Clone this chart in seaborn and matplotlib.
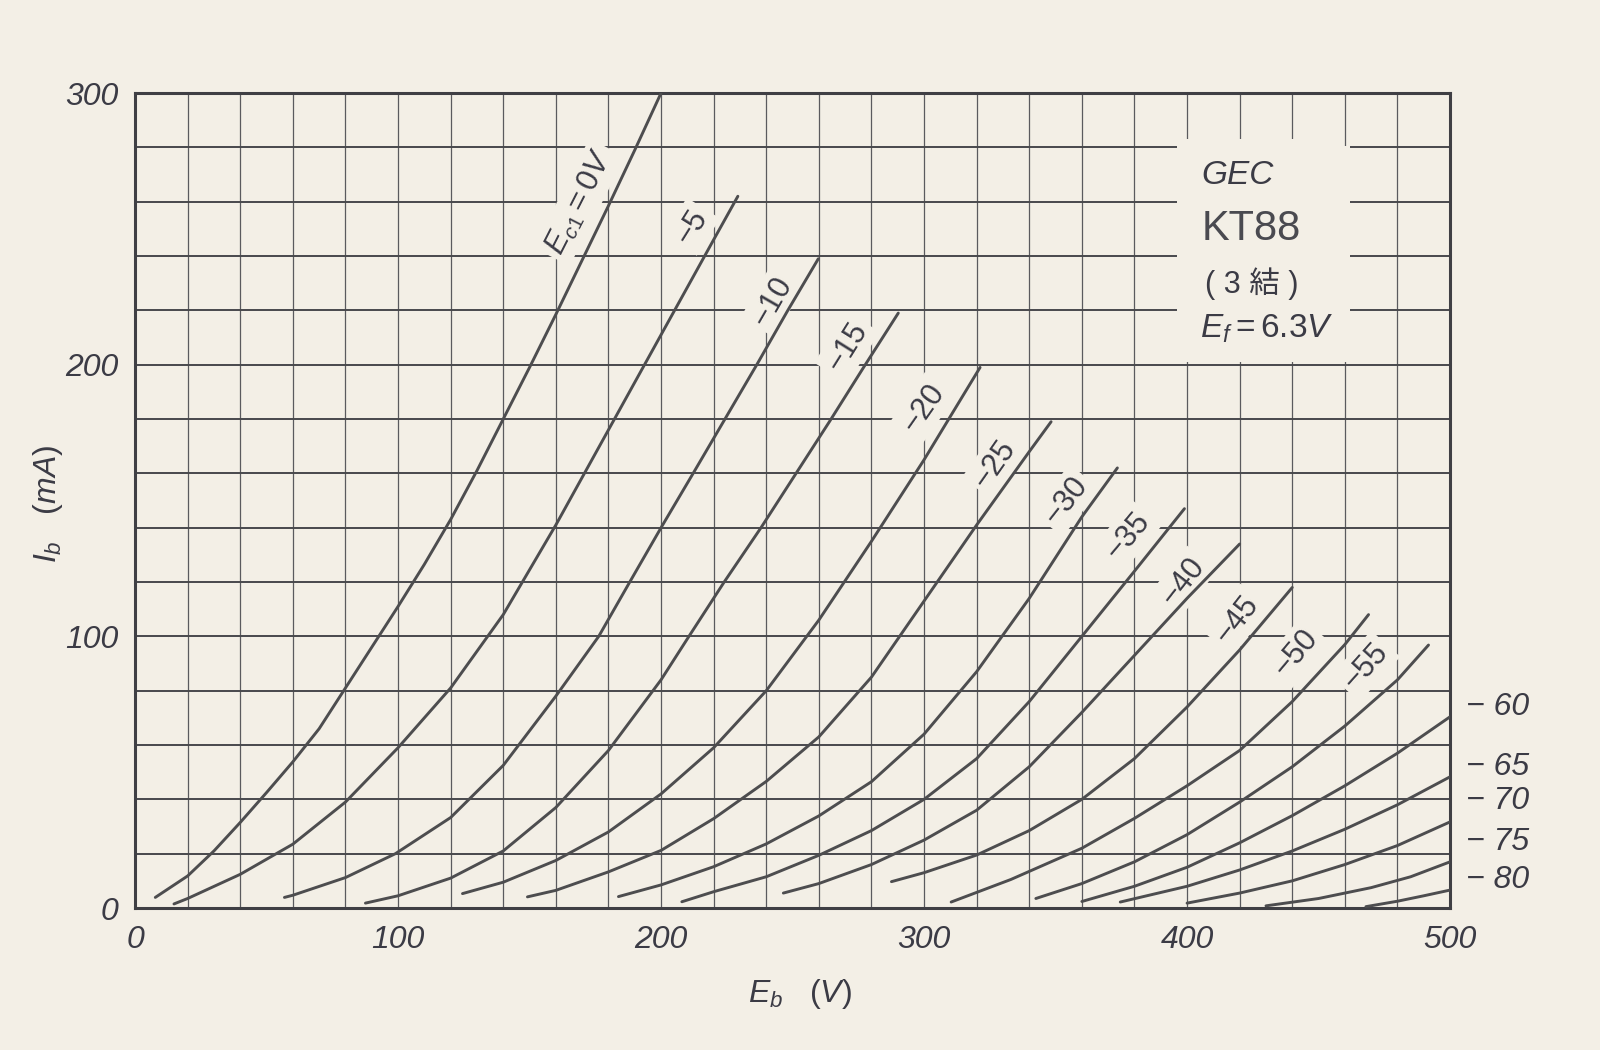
import numpy as np
import pandas as pd
import matplotlib
matplotlib.use("Agg")
import matplotlib.pyplot as plt
from matplotlib.ticker import MultipleLocator
from matplotlib.patches import Rectangle
import seaborn as sns

# ─── DATA ───────────────────────────────────────────────────────────────────
grid_bias = [0, -5, -10, -15, -20, -25, -30, -35, -40, -45, -50, -55,
             -60, -65, -70, -75, -80]

eb_0 = [7.7, 20, 30, 40, 50, 60, 70, 80, 90, 100, 110, 120, 130, 140, 150, 160, 170, 180, 190, 200]
ib_0 = [3.9, 11.8, 21, 31.5, 42.5, 53.8, 66, 81, 96, 111, 126.5, 143, 161, 180, 199, 218.5, 238.5, 258.5, 279, 300]
eb_5 = [14.8, 20, 40, 60, 80, 100, 120, 140, 160, 180, 200, 220, 229.2]
ib_5 = [1.5, 3.5, 12.4, 23.5, 39, 59, 81, 108, 141, 176, 211, 246, 262]
eb_10 = [56.8, 60, 80, 99, 120, 140, 160, 176.3, 188.1, 200, 212.2, 224.3, 236.4, 248.2, 259.8]
ib_10 = [3.9, 4.7, 11.2, 20, 33.3, 52.5, 78, 100, 120, 140, 160, 180, 200, 220, 239]
eb_15 = [87.6, 100, 120, 140, 160, 180, 200, 210.6, 224, 238, 251, 264, 277, 290.2]
ib_15 = [1.8, 4.5, 11, 21, 37, 58, 84, 100, 120, 140, 159.5, 179, 199, 219]
eb_20 = [124.5, 140, 160, 180, 200, 220, 240, 260, 280, 300, 321.3]
ib_20 = [5.3, 9.5, 17.5, 28, 42, 59, 80, 106, 135, 165, 199]
eb_25 = [149.2, 160, 180, 200, 220, 240, 260, 280, 300, 320, 340, 348.3]
ib_25 = [4.1, 6.5, 13.3, 21.2, 32.9, 46.6, 63, 85, 113, 141, 168, 179]
eb_30 = [183.8, 200, 220, 240, 260, 280, 300, 320, 340, 360, 373.5]
ib_30 = [4.2, 8.5, 15.2, 23.6, 33.9, 46.5, 64, 87, 114, 144, 162]
eb_35 = [207.9, 220, 240, 260, 280, 300, 320, 340, 360, 380, 399]
ib_35 = [2.3, 6, 11.5, 19.4, 28.5, 40, 55, 76, 100, 124, 147]
eb_40 = [246.5, 260, 280, 300, 320, 340, 360, 380, 400, 420]
ib_40 = [5.5, 9, 16, 25, 36, 52, 72, 93, 114, 134]
eb_45 = [287.6, 300, 320, 340, 360, 380, 400, 420, 440]
ib_45 = [9.7, 13, 19.5, 28.5, 40, 55, 74, 95, 118]
eb_50 = [310.3, 333, 360, 380, 400, 420, 440, 460, 469]
ib_50 = [2.2, 10.5, 22, 33, 45, 58, 76, 97, 108]
eb_55 = [342.5, 360, 380, 400, 420, 440, 460, 480, 491.8]
ib_55 = [3.5, 9, 17, 27, 39, 52, 67, 84, 96.8]
eb_60 = [360, 380, 400, 420, 440, 460, 480, 500]
ib_60 = [2.4, 8, 15, 24, 34, 45, 57, 70.4]
eb_65 = [374.6, 400, 420, 440, 460, 480, 500]
ib_65 = [2.2, 8, 14, 21, 29, 38, 48.3]
eb_70 = [400, 420, 440, 460, 480, 500]
ib_70 = [1.8, 5.5, 10, 16, 23, 31.7]
eb_75 = [430, 450, 470, 485, 500]
ib_75 = [0.8, 3.5, 7.5, 11.5, 17]
eb_80 = [468, 480, 490, 500]
ib_80 = [0.5, 2.5, 4.5, 6.6]

eb_all = [eb_0, eb_5, eb_10, eb_15, eb_20, eb_25, eb_30, eb_35, eb_40,
          eb_45, eb_50, eb_55, eb_60, eb_65, eb_70, eb_75, eb_80]
ib_all = [ib_0, ib_5, ib_10, ib_15, ib_20, ib_25, ib_30, ib_35, ib_40,
          ib_45, ib_50, ib_55, ib_60, ib_65, ib_70, ib_75, ib_80]

# curve labels near the top ends
curve_labels = [r"$E_{c1}=0V$", "−5", "−10", "−15", "−20", "−25", "−30",
                "−35", "−40", "−45", "−50", "−55"]
curve_label_eb = [169, 211.7, 242.4, 270.7, 299.8, 327, 354, 377.4, 398.7, 418.9, 441.4, 467.8]
curve_label_ib = [259.8, 250.8, 223.4, 206.4, 184, 163.4, 150, 137, 120.1, 106.2, 93.8, 89]
curve_label_rot = [63, 58, 60, 58, 55, 55, 52, 50, 52, 52, 50, 48]

# labels beside the right border
side_labels = ["− 60", "− 65", "− 70", "− 75", "− 80"]
side_label_ib = [74, 52, 39.4, 24.3, 10.3]

x_ticks = [0, 100, 200, 300, 400, 500]
y_ticks = [0, 100, 200, 300]

# ─── STYLE ───────────────────────────────────────────────────────────────────
PAPER = "#F3EFE6"
INK = "#4d4d4f"
TXT = "#3b3b45"

sns.set_theme(style="white")
plt.rcParams["font.family"] = ["Liberation Sans", "DejaVu Sans", "Noto Sans CJK JP"]
plt.rcParams["mathtext.fontset"] = "custom"
plt.rcParams["mathtext.rm"] = "Liberation Sans"
plt.rcParams["mathtext.it"] = "Liberation Sans:italic"

rows = []
for bias, xs, ys in zip(grid_bias, eb_all, ib_all):
    for x, y in zip(xs, ys):
        rows.append({"Ec": bias, "Eb": x, "Ib": y})
df = pd.DataFrame(rows)

fig = plt.figure(figsize=(16, 10.62), dpi=100)
fig.patch.set_facecolor(PAPER)
ax = fig.add_axes([0.0844, 0.145, 0.8219, 0.7674])
ax.set_facecolor(PAPER)

sns.lineplot(data=df, x="Eb", y="Ib", units="Ec", estimator=None, sort=False,
             color=INK, lw=2.1, ax=ax, zorder=5, legend=False)

ax.set_xlim(0, 500)
ax.set_ylim(0, 300)
ax.xaxis.set_minor_locator(MultipleLocator(20))
ax.yaxis.set_minor_locator(MultipleLocator(20))
ax.set_xticks(x_ticks)
ax.set_yticks(y_ticks)
ax.set_xticklabels([str(v) for v in x_ticks], fontsize=23, style="italic", color=TXT)
ax.set_yticklabels([str(v) for v in y_ticks], fontsize=23, style="italic", color=TXT)
ax.tick_params(which="both", length=0)
ax.tick_params(axis="x", pad=12)
ax.tick_params(axis="y", pad=12)
ax.grid(which="both", axis="x", color="#5a5a5e", lw=0.9, zorder=1)
ax.grid(which="both", axis="y", color="#48484c", lw=1.4, zorder=1)
ax.set_axisbelow(True)
for s in ax.spines.values():
    s.set_color("#3f3f44")
    s.set_linewidth(2.2)
    s.set_visible(True)
ax.set_xlabel("")
ax.set_ylabel("")

fig.text(0.50, 0.064, r"$E_b$   $(V)$", fontsize=23, color=TXT, ha="center", va="center")
fig.text(0.030, 0.526, r"$I_b$   $(mA)$", fontsize=23, color=TXT, ha="center",
         va="center", rotation=90)

# blank box behind the tube data
ax.add_patch(Rectangle((396, 201), 66, 79.5, facecolor=PAPER, edgecolor="none", zorder=2))
ax.add_patch(Rectangle((396, 280), 63, 3, facecolor=PAPER, edgecolor="none", zorder=2))
ax.text(405.5, 269.5, "GEC", fontsize=24, style="italic", color=TXT,
        va="center", ha="left", zorder=6)
ax.text(405.5, 250, "KT88", fontsize=30, color="#4a4a50",
        va="center", ha="left", zorder=6)
ax.text(407, 229.8, "( 3 結 )", fontsize=22, color=TXT,
        va="center", ha="left", zorder=6)
ax.text(405, 213.3, r"$E_f = 6.3V$", fontsize=24, color=TXT,
        va="center", ha="left", zorder=6)

for lab, x, y, r in zip(curve_labels, curve_label_eb, curve_label_ib, curve_label_rot):
    ax.text(x, y, lab, fontsize=22, rotation=r, color=TXT, ha="center", va="center",
            rotation_mode="anchor", zorder=3,
            bbox=dict(boxstyle="square,pad=0.15", fc=PAPER, ec="none"))

for lab, y in zip(side_labels, side_label_ib):
    ax.text(506, y, lab, fontsize=23, style="italic", color=TXT,
            ha="left", va="center", clip_on=False)

# white strip at the bottom of the scan
fig.add_artist(Rectangle((0, 0), 1, 0.011, transform=fig.transFigure,
                         facecolor="white", edgecolor="none"))

fig.savefig("out.png", dpi=100, facecolor=PAPER)
